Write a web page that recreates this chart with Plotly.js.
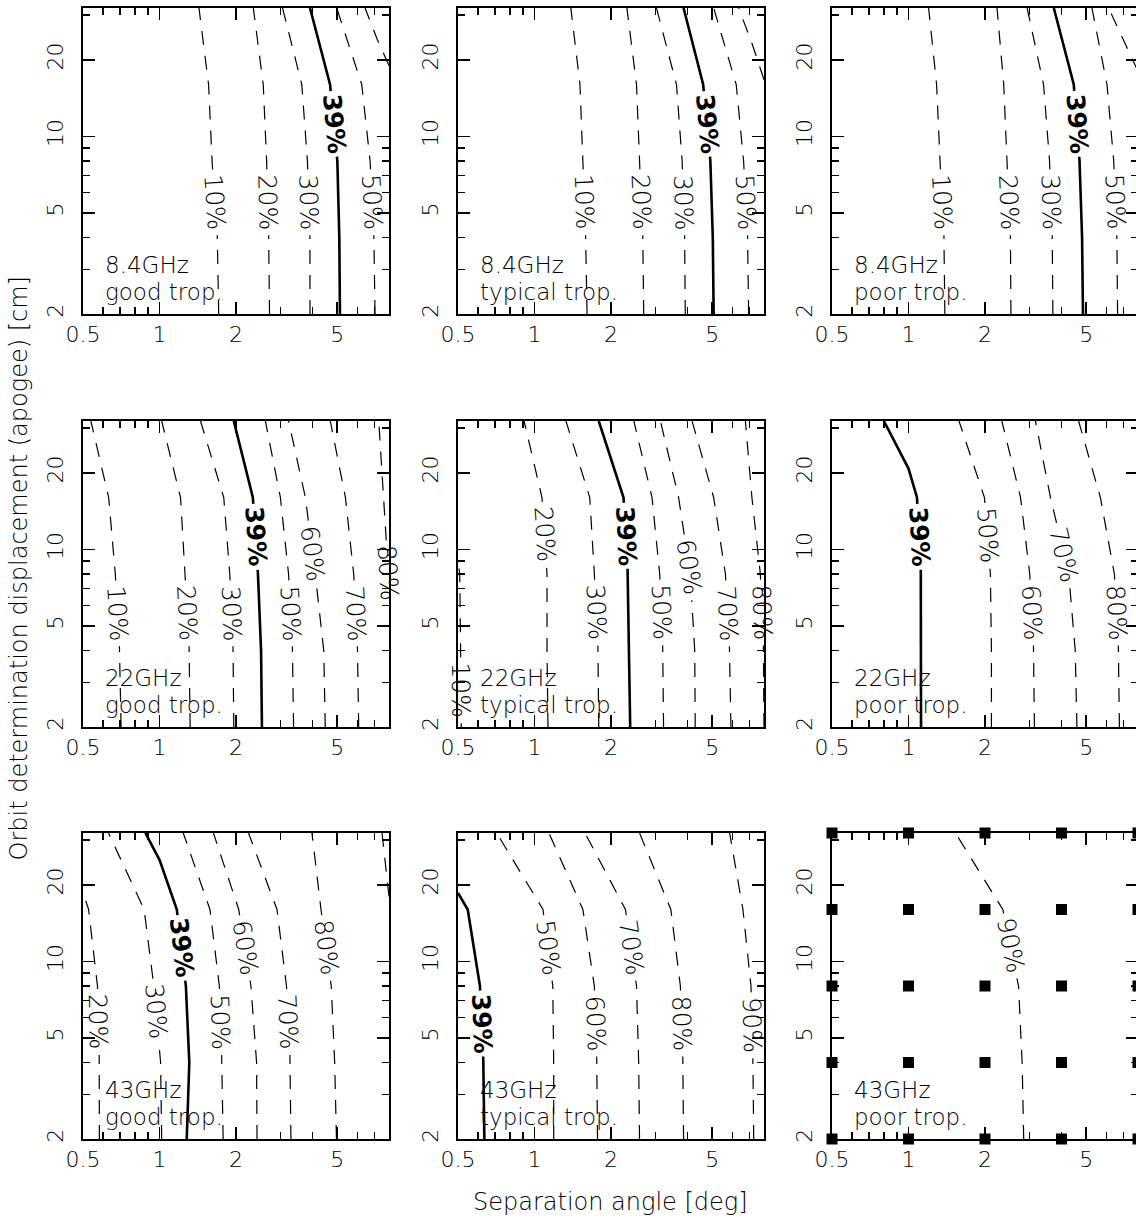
<!DOCTYPE html>
<html>
<head>
<meta charset="utf-8">
<script src="https://cdn.plot.ly/plotly-3.0.1.min.js"></script>
<style>
html,body{margin:0;padding:0;overflow:hidden;background:#ffffff;}
</style>
</head>
<body>
<div id="chart" style="width:1142px;height:1227px;"></div>
<script>
// ---------------- DATA ----------------
const FREQ = ['8.4GHz', '22GHz', '43GHz'];
const TROP = ['good trop.', 'typical trop.', 'poor trop.'];
const X_TICKS = [0.5, 1, 2, 5];
const X_TICK_TEXT = ['0.5', '1', '2', '5'];
const X_MINOR = [0.6, 0.7, 0.8, 0.9, 3, 4, 6, 7, 8];
const Y_TICKS = [2, 5, 10, 20];
const Y_TICK_TEXT = ['2', '5', '10', '20'];
const Y_MINOR = [3, 4, 6, 7, 8, 9, 30];
const GRID_X = [0.5, 1, 2, 4, 8];   // simulation grid (separation angle, deg)
const GRID_Y = [2, 4, 8, 16, 32];   // simulation grid (displacement, cm)
const Y5 = GRID_Y;

// 8.4GHz, good trop.
const lev_84_good = [10, 20, 30, 39, 50, 60];
const x_84_good = [[1.71,1.69,1.61,1.56,1.43],[2.71,2.69,2.64,2.56,2.34],[3.91,3.91,3.82,3.63,3.05],
                   [5.13,5.10,5.01,4.69,3.91],[7.05,6.98,6.74,6.25,4.98],[8.0,7.2,6.44]];
const y_84_good = [Y5, Y5, Y5, Y5, Y5, [19,24,32]];
const lab_84_good = [5.5, 5.5, 5.5, 11.2, 5.5, null];

// 8.4GHz, typical trop.
const lev_84_typ = [10, 20, 30, 39, 50, 60];
const x_84_typ = [[1.61,1.59,1.55,1.51,1.39],[2.69,2.67,2.59,2.52,2.31],[3.92,3.90,3.81,3.62,3.02],
                  [5.07,5.03,4.92,4.61,3.86],[6.96,6.90,6.65,6.22,5.07],[8.0,7.2,6.36]];
const y_84_typ = [Y5, Y5, Y5, Y5, Y5, [16.7,23,32]];
const lab_84_typ = [5.5, 5.5, 5.5, 11.2, 5.5, null];

// 8.4GHz, poor trop.
const lev_84_poor = [10, 20, 30, 39, 50, 60];
const x_84_poor = [[1.39,1.38,1.33,1.29,1.20],[2.53,2.52,2.44,2.37,2.23],[3.70,3.68,3.59,3.40,2.93],
                   [4.86,4.82,4.71,4.47,3.73],[6.65,6.61,6.42,6.04,5.27],[8.0,7.0,6.13]];
const y_84_poor = [Y5, Y5, Y5, Y5, Y5, [18,24,32]];
const lab_84_poor = [5.5, 5.5, 5.5, 11.2, 5.5, null];

// 22GHz, good trop.
const lev_22_good = [10, 20, 30, 39, 50, 60, 70, 80];
const x_22_good = [[0.706,0.697,0.670,0.631,0.537],[1.32,1.31,1.26,1.21,1.02],[1.96,1.95,1.89,1.79,1.45],
                   [2.53,2.51,2.44,2.33,1.96],[3.37,3.34,3.22,2.99,2.61],[4.49,4.43,4.10,3.75,3.22],
                   [6.08,6.02,5.81,5.39,4.70],[8.0,7.95,7.62,7.29]];
const y_22_good = [Y5, Y5, Y5, Y5, Y5, Y5, Y5, [6.3,8,16,32]];
const lab_22_good = [5.6, 5.6, 5.6, 11.2, 5.6, 9.65, 5.6, 8.05];

// 22GHz, typical trop.
const lev_22_typ = [10, 20, 30, 39, 50, 60, 70, 80];
const x_22_typ = [[0.515,0.512,0.508,0.5],[1.13,1.12,1.12,1.07,0.91],[1.79,1.78,1.72,1.65,1.33],
                  [2.38,2.36,2.33,2.24,1.79],[3.22,3.20,3.11,2.90,2.46],[4.29,4.27,4.10,3.69,3.13],
                  [5.93,5.86,5.64,5.07,4.17],[8.0,7.97,7.74,7.17,6.76]];
const y_22_typ = [[2,4,8,9.0], Y5, Y5, Y5, Y5, Y5, Y5, Y5];
const lab_22_typ = [2.79, 11.4, 5.64, 11.3, 5.64, 8.5, 5.6, 5.64];

// 22GHz, poor trop.
const lev_22_poor = [39, 50, 60, 70, 80];
const x_22_poor = [[1.12,1.12,1.12,1.08,1.0,0.80],[2.12,2.12,2.10,1.99,1.58],[3.13,3.11,3.00,2.76,2.33],
                   [4.60,4.53,4.27,3.62,3.16],[6.76,6.71,6.46,5.69,4.67]];
const y_22_poor = [[2,4,8,16,20.8,32], Y5, Y5, Y5, Y5];
const lab_22_poor = [11.2, 11.3, 5.64, 9.5, 5.64];

// 43GHz, good trop.
const lev_43_good = [20, 30, 39, 50, 60, 70, 80, 90];
const x_43_good = [[0.58,0.58,0.57,0.526,0.5],[1.02,1.01,0.95,0.87,0.63],[1.28,1.31,1.27,1.17,1.0,0.88],
                   [1.78,1.76,1.72,1.58,1.24],[2.42,2.41,2.29,2.05,1.63],[3.29,3.27,3.16,2.90,2.24],
                   [4.97,4.89,4.74,4.32,3.98],[8.0,7.51]];
const y_43_good = [[2,4,8,16,18.6], Y5, [2,4,8,16,25.1,32], Y5, Y5, Y5, Y5, [18,32]];
const lab_43_good = [5.77, 6.35, 11.3, 5.77, 11.3, 5.77, 11.3, null];

// 43GHz, typical trop.
const lev_43_typ = [39, 50, 60, 70, 80, 90];
const x_43_typ = [[0.635,0.63,0.61,0.546,0.5],[1.19,1.19,1.18,1.08,0.71],[1.77,1.76,1.72,1.55,1.14],
                  [2.59,2.57,2.52,2.28,1.58],[3.86,3.84,3.75,3.44,2.59],[7.29,7.24,7.11,6.61,5.86]];
const y_43_typ = [[2,4,8,16,18.6], Y5, Y5, Y5, Y5, Y5];
const lab_43_typ = [5.69, 11.3, 5.7, 11.3, 5.7, 5.6];

// 43GHz, poor trop.
const lev_43_poor = [90];
const x_43_poor = [[2.84,2.80,2.71,2.35,1.53]];
const y_43_poor = [Y5];
const lab_43_poor = [11.5];

const PANELS = [
  [lev_84_good, x_84_good, y_84_good, lab_84_good],
  [lev_84_typ,  x_84_typ,  y_84_typ,  lab_84_typ],
  [lev_84_poor, x_84_poor, y_84_poor, lab_84_poor],
  [lev_22_good, x_22_good, y_22_good, lab_22_good],
  [lev_22_typ,  x_22_typ,  y_22_typ,  lab_22_typ],
  [lev_22_poor, x_22_poor, y_22_poor, lab_22_poor],
  [lev_43_good, x_43_good, y_43_good, lab_43_good],
  [lev_43_typ,  x_43_typ,  y_43_typ,  lab_43_typ],
  [lev_43_poor, x_43_poor, y_43_poor, lab_43_poor]
];
const MAIN_LEVEL = 39;

// ---------------- LAYOUT / STYLE ----------------
const W = 1142, H = 1227;
const COL_L = [83, 458, 832];
const ROW_T = [8, 421, 833];
const SIZE = 306;
const PX_PER_OCT = SIZE / 4;        // pixels per factor of 2 (both axes)
const FONT = 'DejaVu Sans, Liberation Sans, sans-serif';
const LIGHT = 200;
const LABEL_HALF_GAP = 33;          // px
const EPS = 1e-7;

function splitForLabel(xs, ys, labY) {
  const u = xs.map(Math.log2), v = ys.map(Math.log2);
  const n = u.length;
  const s = [0];
  for (let i = 1; i < n; i++) s.push(s[i-1] + Math.hypot(u[i]-u[i-1], v[i]-v[i-1]));
  if (labY == null) return {x: xs.slice(), y: ys.slice(), label: null};
  const vl = Math.log2(labY);
  let k = -1, t = 0;
  for (let i = 0; i < n-1; i++) {
    const a = v[i], b = v[i+1];
    if (a !== b && (vl-a)*(vl-b) <= 0) { k = i; t = (vl-a)/(b-a); break; }
  }
  if (k < 0) return {x: xs.slice(), y: ys.slice(), label: null};
  const sl = s[k] + t*(s[k+1]-s[k]);
  const ul = u[k] + t*(u[k+1]-u[k]);
  const h = LABEL_HALF_GAP / PX_PER_OCT;
  function at(sv) {
    for (let j = 0; j < n-1; j++) {
      if (sv >= s[j] && sv <= s[j+1]) {
        const f = (s[j+1] === s[j]) ? 0 : (sv - s[j])/(s[j+1]-s[j]);
        return [Math.pow(2, u[j]+f*(u[j+1]-u[j])), Math.pow(2, v[j]+f*(v[j+1]-v[j]))];
      }
    }
    return null;
  }
  const X = [], Y = [];
  for (let i = 0; i < n; i++) if (s[i] < sl-h) { X.push(xs[i]); Y.push(ys[i]); }
  if (sl-h > 0) { const p = at(sl-h); X.push(p[0]); Y.push(p[1]); }
  X.push(null); Y.push(null);
  if (sl+h < s[n-1]) { const p = at(sl+h); X.push(p[0]); Y.push(p[1]); }
  for (let i = 0; i < n; i++) if (s[i] > sl+h) { X.push(xs[i]); Y.push(ys[i]); }
  let uHi, vHi, uLo, vLo;
  if (v[k+1] >= v[k]) { uHi = u[k+1]; vHi = v[k+1]; uLo = u[k]; vLo = v[k]; }
  else { uHi = u[k]; vHi = v[k]; uLo = u[k+1]; vLo = v[k+1]; }
  const ang = Math.atan2(vHi - vLo, uLo - uHi) * 180 / Math.PI;
  return {x: X, y: Y, label: {x: Math.pow(2, ul), y: labY, angle: ang}};
}

const traces = [];
const annotations = [];
const layout = {
  width: W, height: H,
  margin: {l: 0, r: 0, t: 0, b: 0},
  paper_bgcolor: '#ffffff', plot_bgcolor: '#ffffff',
  showlegend: false,
  font: {family: FONT, color: '#000000', weight: LIGHT}
};

for (let p = 0; p < 9; p++) {
  const row = Math.floor(p / 3), col = p % 3;
  const n = p + 1;
  const xa = n === 1 ? 'xaxis' : 'xaxis' + n;
  const ya = n === 1 ? 'yaxis' : 'yaxis' + n;
  const xr = n === 1 ? 'x' : 'x' + n;
  const yr = n === 1 ? 'y' : 'y' + n;
  const L = COL_L[col], T = ROW_T[row];
  const common = {
    type: 'log', showline: true, linecolor: '#000', linewidth: 1.6, mirror: 'allticks',
    ticks: 'inside', ticklen: 12, tickwidth: 1.4, tickcolor: '#000',
    showgrid: false, zeroline: false, fixedrange: true,
    tickfont: {family: FONT, size: 22, color: '#000', weight: LIGHT}
  };
  layout[xa] = Object.assign({}, common, {
    domain: [L / W, (L + SIZE) / W], anchor: yr,
    range: [Math.log10(0.5) - EPS, Math.log10(8) + EPS],
    tickmode: 'array', tickvals: X_TICKS, ticktext: X_TICK_TEXT,
    ticklabelstandoff: 0,
    minor: {tickmode: 'array', tickvals: X_MINOR, ticks: 'inside', ticklen: 7, tickwidth: 1.4, tickcolor: '#000', showgrid: false}
  });
  layout[ya] = Object.assign({}, common, {
    domain: [(H - T - SIZE) / H, (H - T) / H], anchor: xr,
    range: [Math.log10(2) - EPS, Math.log10(32) + EPS],
    tickmode: 'array', tickvals: Y_TICKS, ticktext: Y_TICK_TEXT, tickangle: -90,
    ticklabelstandoff: 10,
    minor: {tickmode: 'array', tickvals: Y_MINOR, ticks: 'inside', ticklen: 7, tickwidth: 1.4, tickcolor: '#000', showgrid: false}
  });

  const [levs, xss, yss, labs] = PANELS[p];
  for (let c = 0; c < levs.length; c++) {
    const isMain = levs[c] === MAIN_LEVEL;
    const seg = splitForLabel(xss[c], yss[c], labs[c]);
    traces.push({
      type: 'scatter', mode: 'lines', x: seg.x, y: seg.y, xaxis: xr, yaxis: yr,
      connectgaps: false, hoverinfo: 'skip',
      line: isMain ? {color: '#000', width: 2.6} : {color: '#000', width: 1.2, dash: '14px,11px'}
    });
    if (seg.label) {
      annotations.push({
        xref: xr, yref: yr,
        x: Math.log10(seg.label.x), y: Math.log10(seg.label.y),
        text: isMain ? '<b>' + levs[c] + '%</b>' : levs[c] + '%',
        textangle: seg.label.angle, showarrow: false,
        xanchor: 'center', yanchor: 'middle',
        font: isMain ? {family: FONT, size: 25, color: '#000', weight: 700}
                     : {family: FONT, size: 25, color: '#000', weight: LIGHT}
      });
    }
  }
  annotations.push({xref: xr + ' domain', yref: yr + ' domain', x: 0.065, y: 0.160,
    xanchor: 'left', yanchor: 'middle', showarrow: false, text: FREQ[row],
    font: {family: FONT, size: 23, color: '#000', weight: LIGHT}});
  annotations.push({xref: xr + ' domain', yref: yr + ' domain', x: 0.065, y: 0.073,
    xanchor: 'left', yanchor: 'middle', showarrow: false, text: TROP[col],
    font: {family: FONT, size: 23, color: '#000', weight: LIGHT}});
}

// simulation grid markers on the 43GHz poor panel
const gx = [], gy = [];
GRID_Y.forEach(yv => GRID_X.forEach(xv => { gx.push(xv); gy.push(yv); }));
traces.push({type: 'scatter', mode: 'markers', x: gx, y: gy, xaxis: 'x9', yaxis: 'y9',
  cliponaxis: false, hoverinfo: 'skip',
  marker: {symbol: 'square', size: 11, color: '#000', line: {width: 0}}});

annotations.push({xref: 'paper', yref: 'paper', x: 610 / W, y: (H - 1202) / H,
  xanchor: 'center', yanchor: 'middle', showarrow: false, text: 'Separation angle [deg]',
  font: {family: FONT, size: 24, color: '#000', weight: LIGHT}});
annotations.push({xref: 'paper', yref: 'paper', x: 18.5 / W, y: (H - 569) / H,
  xanchor: 'center', yanchor: 'middle', showarrow: false, textangle: -90,
  text: 'Orbit determination displacement (apogee) [cm]',
  font: {family: FONT, size: 24, color: '#000', weight: LIGHT}});

layout.annotations = annotations;
Plotly.newPlot('chart', traces, layout, {staticPlot: true, displayModeBar: false});
</script>
</body>
</html>
